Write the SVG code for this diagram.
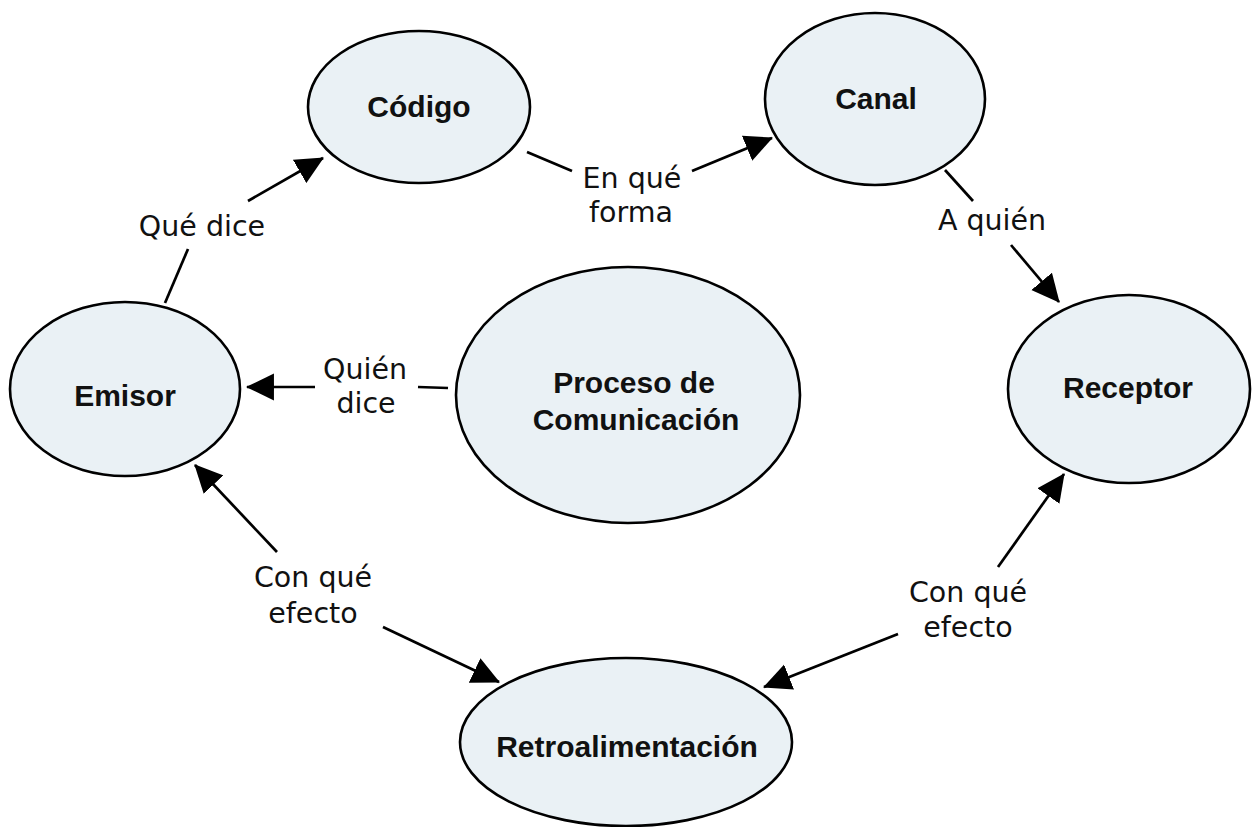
<svg xmlns="http://www.w3.org/2000/svg" width="1252" height="827" viewBox="0 0 1252 827">
<style>
.node ellipse{fill:#EAF1F5;stroke:#000;stroke-width:2.6}
.node text{font-family:"Liberation Sans",Arial,sans-serif;font-weight:bold;font-size:30px;fill:#111;text-anchor:middle}
.lbl{font-family:"DejaVu Sans",Verdana,sans-serif;font-size:28.5px;fill:#111;text-anchor:middle}
.conn line{stroke:#000;stroke-width:2.7}
.conn line.arr{marker-end:url(#ah)}
</style>
<defs>
<marker id="ah" markerUnits="userSpaceOnUse" markerWidth="28" markerHeight="28" viewBox="0 0 27 26" refX="26" refY="13" orient="auto">
<path d="M0,0 L27,13 L0,26 z" fill="#000"/>
</marker>
</defs>
<rect width="1252" height="827" fill="#fff"/>
<g class="conn" id="connectors">
<line x1="165" y1="303" x2="188" y2="249"/>
<line class="arr" x1="248" y1="201" x2="323" y2="158"/>
<line x1="527" y1="152" x2="572" y2="171"/>
<line class="arr" x1="692" y1="171" x2="772" y2="138"/>
<line x1="945" y1="170" x2="973" y2="201"/>
<line class="arr" x1="1011" y1="245" x2="1059" y2="302"/>
<line x1="448" y1="388" x2="418" y2="387"/>
<line class="arr" x1="315" y1="387" x2="247" y2="387"/>
<line class="arr" x1="277" y1="552" x2="195" y2="465"/>
<line class="arr" x1="383" y1="627" x2="499" y2="682"/>
<line class="arr" x1="998" y1="567" x2="1064" y2="474"/>
<line class="arr" x1="898" y1="634" x2="764" y2="687"/>
<text class="lbl" x="202" y="236">Qué dice</text>
<text class="lbl" x="632" y="188">En qué</text>
<text class="lbl" x="631" y="222">forma</text>
<text class="lbl" x="992" y="230">A quién</text>
<text class="lbl" x="365" y="379">Quién</text>
<text class="lbl" x="366" y="413">dice</text>
<text class="lbl" x="313" y="587">Con qué</text>
<text class="lbl" x="313" y="623">efecto</text>
<text class="lbl" x="968" y="602">Con qué</text>
<text class="lbl" x="968" y="637">efecto</text>
</g>
<g class="node" id="codigo"><ellipse cx="419" cy="107" rx="111" ry="76"/><text x="419" y="117">Código</text></g>
<g class="node" id="canal"><ellipse cx="875" cy="99" rx="110" ry="86"/><text x="876" y="109">Canal</text></g>
<g class="node" id="emisor"><ellipse cx="125" cy="389" rx="115" ry="87"/><text x="125" y="406">Emisor</text></g>
<g class="node" id="proceso"><ellipse cx="628" cy="395" rx="172" ry="128"/><text x="634" y="393">Proceso de</text><text x="636" y="430">Comunicación</text></g>
<g class="node" id="receptor"><ellipse cx="1129" cy="389" rx="121" ry="94"/><text x="1128" y="398">Receptor</text></g>
<g class="node" id="retroalimentacion"><ellipse cx="626" cy="742" rx="166" ry="84"/><text x="627" y="757">Retroalimentación</text></g>
</svg>
